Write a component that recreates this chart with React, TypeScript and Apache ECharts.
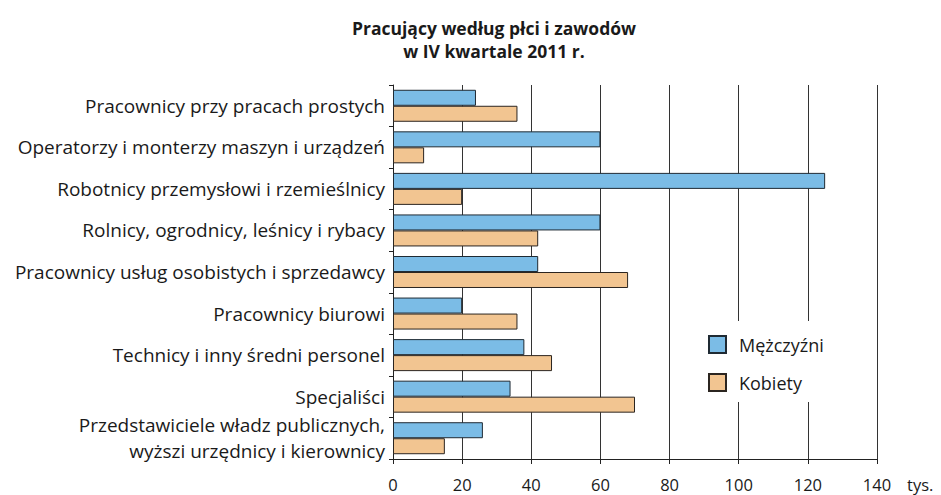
import React, { useEffect, useRef } from "react";
import * as echarts from "echarts";

const categories = [
  "Pracownicy przy pracach prostych",
  "Operatorzy i monterzy maszyn i urządzeń",
  "Robotnicy przemysłowi i rzemieślnicy",
  "Rolnicy, ogrodnicy, leśnicy i rybacy",
  "Pracownicy usług osobistych i sprzedawcy",
  "Pracownicy biurowi",
  "Technicy i inny średni personel",
  "Specjaliści",
  "Przedstawiciele władz publicznych,\nwyższi urzędnicy i kierownicy",
];
const men = [24, 60, 125, 60, 42, 20, 38, 34, 26];
const women = [36, 9, 20, 42, 68, 36, 46, 70, 15];
const seriesNames = ["Mężczyźni", "Kobiety"];
const titleLines = "Pracujący według płci i zawodów\nw IV kwartale 2011 r.";
const unitLabel = "tys.";

const FONT = "'Open Sans', 'Noto Sans', sans-serif";

export default function App() {
  const ref = useRef<HTMLDivElement>(null);
  useEffect(() => {
    document.body.style.margin = "0";
    if (!ref.current) return;
    const chart = echarts.init(ref.current, null, { renderer: "svg" });
    chart.setOption({
      animation: false,
      backgroundColor: "#ffffff",
      textStyle: { fontFamily: FONT },
      title: {
        text: titleLines,
        left: 489,
        textAlign: "center",
        top: 11,
        textStyle: {
          fontFamily: FONT,
          fontSize: 17.5,
          fontWeight: "bold",
          color: "#1a1a1a",
          lineHeight: 23,
        },
      },
      legend: {
        orient: "vertical",
        left: 690,
        top: 321,
        padding: [14, 20, 10, 18],
        backgroundColor: "#ffffff",
        itemWidth: 17,
        itemHeight: 17,
        itemGap: 19,
        icon: "rect",
        textStyle: {
          fontFamily: FONT,
          fontSize: 18,
          color: "#1a1a1a",
          padding: [0, 0, 0, 8],
        },
        data: seriesNames,
      },
      grid: { left: 393, right: 64, top: 85, bottom: 36, containLabel: false },
      xAxis: {
        type: "value",
        min: 0,
        max: 140,
        interval: 20,
        axisLine: { show: true, lineStyle: { color: "#222", width: 1 } },
        axisTick: { show: true, length: 5, lineStyle: { color: "#222" } },
        axisLabel: {
          fontFamily: FONT,
          fontSize: 16.5,
          color: "#1a1a1a",
          margin: 17,
        },
        splitLine: { show: true, lineStyle: { color: "#333", width: 1 } },
      },
      yAxis: {
        type: "category",
        inverse: true,
        data: categories,
        axisLine: { show: true, lineStyle: { color: "#222", width: 1 } },
        axisTick: { show: true, length: 4, lineStyle: { color: "#222" } },
        axisLabel: {
          fontFamily: FONT,
          fontSize: 19,
          color: "#1a1a1a",
          margin: 8,
          lineHeight: 26,
        },
      },
      graphic: [
        {
          type: "text",
          left: 907,
          top: 476,
          style: {
            text: unitLabel,
            font: `16.5px ${FONT}`,
            fill: "#1a1a1a",
          },
        },
      ],
      series: [
        {
          name: seriesNames[0],
          type: "bar",
          data: men,
          barGap: "0%",
          barCategoryGap: "23%",
          itemStyle: { color: "#7bbce6", borderColor: "#1f2a33", borderWidth: 1 },
        },
        {
          name: seriesNames[1],
          type: "bar",
          data: women,
          barGap: "0%",
          barCategoryGap: "23%",
          itemStyle: { color: "#f2c591", borderColor: "#2b2520", borderWidth: 1 },
        },
      ],
    });
    return () => chart.dispose();
  }, []);
  return <div ref={ref} style={{ width: 941, height: 495 }} />;
}
